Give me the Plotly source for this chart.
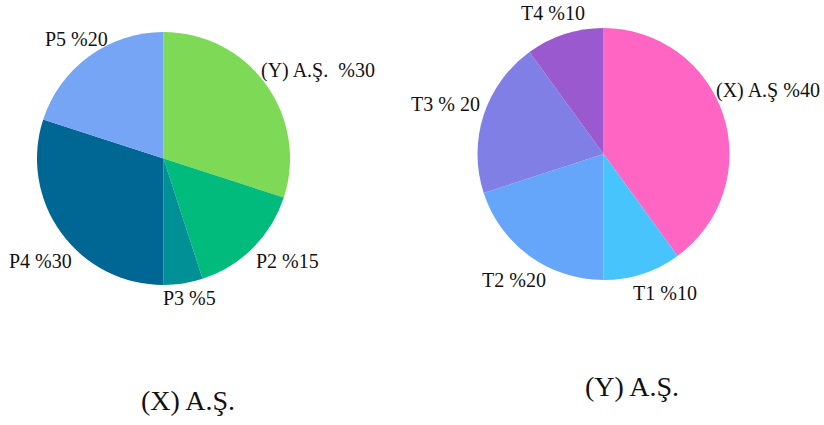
import plotly.graph_objects as go

# ---- data ----
# Left pie: (X) A.Ş.
left_labels = ["(Y) A.Ş.\u00a0 %30", "P2 %15", "P3 %5", "P4 %30", "P5 %20"]
left_values = [30, 15, 5, 30, 20]

# Right pie: (Y) A.Ş.
right_labels = ["(X) A.Ş %40", "T1 %10", "T2 %20", "T3 % 20", "T4 %10"]
right_values = [40, 10, 20, 20, 10]

titles = ["(X) A.Ş.", "(Y) A.Ş."]

# ---- styles / layout ----
left_colors = ["#7ed957", "#00bb7c", "#009096", "#006694", "#76a5f5"]
right_colors = ["#ff66c4", "#47c4fc", "#66a6fa", "#7f7fe6", "#9b59cf"]

W, H = 824, 425
serif = "Liberation Serif"
ink = "#111111"

# pie centres / radii in pixels
left_geo = (163.5, 158.5, 126.5)
right_geo = (603.5, 154, 126)
# label centre positions in pixels
left_label_pos = [(317.5, 71), (287.5, 260.5), (189.5, 298), (40, 260.5), (76, 39)]
right_label_pos = [(767.5, 90), (665, 292.5), (514, 280), (445, 103.5), (552.5, 13.5)]
title_pos = [(187.5, 400), (632, 386)]


def dom(cx, cy, r):
    return dict(x=[(cx - r) / W, (cx + r) / W], y=[(H - cy - r) / H, (H - cy + r) / H])


fig = go.Figure()
for vals, labs, cols, geo in [(left_values, left_labels, left_colors, left_geo),
                              (right_values, right_labels, right_colors, right_geo)]:
    fig.add_trace(go.Pie(
        values=vals, labels=labs, textinfo="none",
        marker=dict(colors=cols, line=dict(width=0)),
        sort=False, direction="clockwise", rotation=0,
        domain=dom(*geo), showlegend=False, hoverinfo="label",
    ))

for labs, poss in [(left_labels, left_label_pos), (right_labels, right_label_pos)]:
    for t, (px, py) in zip(labs, poss):
        fig.add_annotation(text=t, x=px / W, y=1 - py / H, xref="paper", yref="paper",
                           showarrow=False, xanchor="center", yanchor="middle",
                           font=dict(family=serif, size=20, color=ink))

for t, (px, py) in zip(titles, title_pos):
    fig.add_annotation(text=t, x=px / W, y=1 - py / H, xref="paper", yref="paper",
                       showarrow=False, xanchor="center", yanchor="middle",
                       font=dict(family=serif, size=28, color=ink))

fig.update_layout(width=W, height=H, margin=dict(l=0, r=0, t=0, b=0),
                  paper_bgcolor="white", plot_bgcolor="white")
fig.write_html("out.html")
